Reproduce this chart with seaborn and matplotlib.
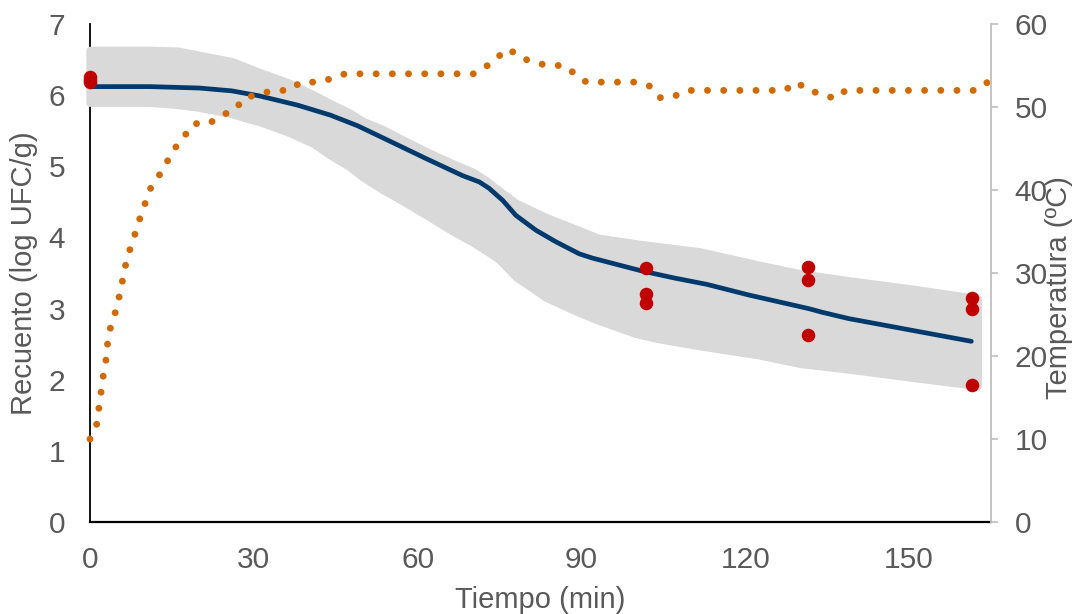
import matplotlib
matplotlib.use("Agg")
import matplotlib.pyplot as plt
import seaborn as sns
import pandas as pd

# Modelled survival curve (log UFC/g) vs time (min)
model_t = [0, 11, 20, 26, 31, 38, 44, 49, 55, 61.5, 68.2, 71.3, 73.1, 75.6, 78, 81.7,
           85.3, 89.6, 92, 101, 107, 113, 120.7, 131.6, 134, 138.9, 161.4]
model_v = [6.12, 6.12, 6.10, 6.06, 5.99, 5.86, 5.72, 5.57, 5.35, 5.11, 4.87, 4.78, 4.69,
           4.52, 4.31, 4.10, 3.94, 3.77, 3.71, 3.53, 3.43, 3.34, 3.19, 3.00, 2.95, 2.86, 2.54]

# Prediction band limits
band_t = [0, 11, 16, 20, 26, 29, 31, 35, 37, 41, 44, 47.5, 50, 53.5, 56.5, 62, 66, 70,
          72.5, 75, 78, 83.5, 89.5, 93, 100, 104, 111.5, 122.5, 130, 140, 150, 162.5]
band_upper = [6.63, 6.63, 6.62, 6.56, 6.47, 6.38, 6.32, 6.21, 6.15, 6.00, 5.88, 5.75, 5.63,
              5.52, 5.40, 5.19, 5.05, 4.92, 4.80, 4.65, 4.48, 4.28, 4.10, 3.99, 3.91, 3.87,
              3.80, 3.61, 3.49, 3.38, 3.28, 3.14]
band_lower = [5.90, 5.90, 5.87, 5.83, 5.74, 5.67, 5.63, 5.52, 5.46, 5.32, 5.16, 5.00, 4.85,
              4.68, 4.55, 4.30, 4.11, 3.94, 3.82, 3.69, 3.45, 3.16, 2.95, 2.84, 2.65, 2.58,
              2.48, 2.35, 2.23, 2.14, 2.04, 1.92]

# Observed counts
obs_t = [0, 0, 0, 101.8, 101.8, 101.8, 131.5, 131.5, 131.5, 161.5, 161.5, 161.5]
obs_v = [6.26, 6.22, 6.18, 3.57, 3.20, 3.08, 3.59, 3.40, 2.63, 3.15, 2.99, 1.92]

# Product temperature (ºC)
temp_t = [0, 1.2, 1.6, 2.0, 2.4, 2.9, 3.2, 3.7, 4.6, 5.2, 5.9, 6.5, 7.3, 8.2, 9.1, 10.1,
          11.1, 12.7, 14.2, 15.5, 17.2, 18.9, 21.8, 24.0, 26.5, 28.2, 30.8, 33.5, 36.5,
          38.6, 41.5, 44.2, 46.7, 70.4, 72.6, 74.6, 76.7, 78.7, 81.2, 83.8, 86.8, 88.8,
          90.9, 99.8, 102.6, 104.5, 107.0, 109.4, 127.2, 129.5, 131.4, 134.0, 136.4, 138.4,
          162.3, 164.4]
temp_v = [10, 11.7, 13.6, 15.5, 17.5, 19.4, 21.4, 23.3, 25.2, 26.7, 28.9, 30.9, 32.8, 34.6,
          36.5, 38.4, 40.2, 41.8, 43.5, 45.0, 46.4, 48.0, 48.0, 49.0, 49.6, 51.1, 51.5, 52,
          52, 53, 53, 53.4, 54, 54, 54.9, 56, 57, 56, 55.4, 55, 55, 54, 53, 53, 52.5, 51.1,
          51.3, 52, 52, 53, 52, 51.6, 51, 52, 52, 53]

x_ticks = [0, 30, 60, 90, 120, 150]
y_ticks = [0, 1, 2, 3, 4, 5, 6, 7]
t_ticks = [0, 10, 20, 30, 40, 50, 60]

sns.set_theme(style="white")
plt.rcParams["font.family"] = ["Liberation Sans", "DejaVu Sans"]

TXT = "#595959"
BAND = "#D9D9D9"
BLUE = "#003A6C"
RED = "#C00000"
ORANGE = "#D06A06"
FS_TICK = 21.5
FS_LABEL = 21

fig = plt.figure(figsize=(10.79, 6.14), dpi=100)
ax = fig.add_axes([0.0834, 0.1498, 0.835, 0.8111])

model = pd.DataFrame({"t": model_t, "v": model_v})
obs = pd.DataFrame({"t": obs_t, "v": obs_v})
temp = pd.DataFrame({"t": temp_t, "v": temp_v})

ax.fill_between(band_t, band_lower, band_upper, facecolor=BAND, edgecolor=BAND,
                linewidth=6, joinstyle="round", capstyle="round", zorder=3, clip_on=False)
sns.lineplot(data=model, x="t", y="v", ax=ax, color=BLUE, linewidth=3.4, sort=False,
             errorbar=None, zorder=4, solid_capstyle="round", solid_joinstyle="round")
sns.scatterplot(data=obs, x="t", y="v", ax=ax, color=RED, s=95, linewidth=0,
                zorder=5, clip_on=False)

ax.set_xlim(0, 165)
ax.set_ylim(0, 7)
ax.set_xticks(x_ticks)
ax.set_yticks(y_ticks)
ax.tick_params(axis="x", length=0, pad=17, labelsize=FS_TICK, labelcolor=TXT)
ax.tick_params(axis="y", length=0, pad=18, labelsize=FS_TICK, labelcolor=TXT)
ax.set_xlabel("Tiempo (min)", fontsize=FS_LABEL, color=TXT)
ax.set_ylabel("Recuento (log UFC/g)", fontsize=FS_LABEL, color=TXT)
ax.xaxis.set_label_coords(0.5, -0.1285)
ax.yaxis.set_label_coords(-0.058, 0.5)
for side in ["top", "right"]:
    ax.spines[side].set_visible(False)
ax.spines["left"].set_color("black")
ax.spines["left"].set_linewidth(1.3)
ax.spines["bottom"].set_color("black")
ax.spines["bottom"].set_linewidth(1.6)
for side in ["left", "bottom"]:
    ax.spines[side].set_zorder(2)

ax2 = ax.twinx()
sns.lineplot(data=temp, x="t", y="v", ax=ax2, color=ORANGE, linewidth=5.0, sort=False,
             errorbar=None, linestyle=(0, (0.001, 2.33)), dash_capstyle="round",
             clip_on=False)
ax2.set_ylim(0, 60)
ax2.set_yticks(t_ticks)
ax2.tick_params(axis="y", length=5, width=1.2, color="#BFBFBF", pad=12,
                labelsize=FS_TICK, labelcolor=TXT, right=True, left=False)
ax2.set_ylabel("Temperatura (ºC)", fontsize=FS_LABEL, color=TXT)
ax2.yaxis.set_label_coords(1.06, 0.47)
for side in ["top", "left", "bottom"]:
    ax2.spines[side].set_visible(False)
ax2.spines["right"].set_color("#BFBFBF")
ax2.spines["right"].set_linewidth(1.3)
ax2.set_xlabel("")

fig.savefig("out.png", dpi=100)
